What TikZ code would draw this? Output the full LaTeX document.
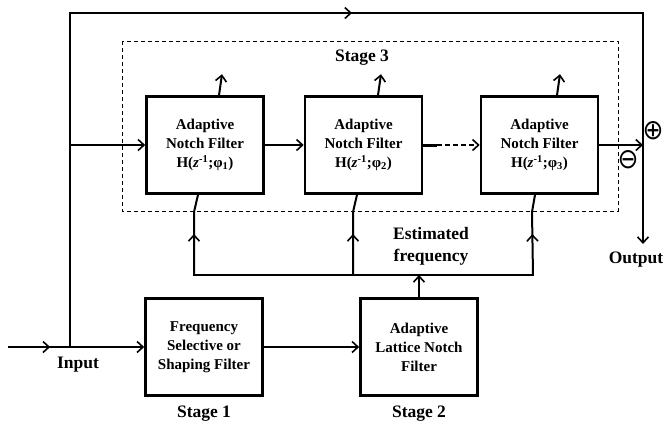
\documentclass[tikz,border=0pt]{standalone}
\usepackage{fontspec}
\setmainfont{Liberation Serif}
\newfontfamily\symfont{DejaVu Sans}
\usetikzlibrary{arrows.meta,decorations.markings}
\begin{document}
\begin{tikzpicture}[x=1pt,y=-1pt,
  >={Straight Barb[length=6pt,width=11pt,line width=1.6pt]},
  blk/.style={draw,line width=2.6pt,minimum width=117pt,minimum height=97pt,align=center,inner sep=0pt,font=\fontsize{15}{19}\selectfont\bfseries},
  lbl/.style={align=center,font=\fontsize{17.5}{22}\selectfont\bfseries,inner sep=0pt},
  conn/.style={line width=2pt},
  midarrow/.style={postaction={decorate},decoration={markings,mark=at position #1 with {\arrow{>}}}},
  sym/.style={font=\symfont\fontsize{25}{25}\selectfont,inner sep=0pt,yscale=1.12}
]
\useasboundingbox (0,0) rectangle (664,424);

% dashed stage-3 frame
\draw[line width=1pt,dash pattern=on 4pt off 3pt] (122,41) rectangle (618,211);
\node[lbl] (st3) at (362,58) {Stage 3};

% blocks
\node[blk] (f1) at (205,145) {Adaptive\\Notch Filter\\H(\textit{z}\textsuperscript{-1};φ\textsubscript{1})};
\node[blk] (f2) at (363.5,145) {Adaptive\\Notch Filter\\H(\textit{z}\textsuperscript{-1};φ\textsubscript{2})};
\node[blk] (f3) at (539.5,145) {Adaptive\\Notch Filter\\H(\textit{z}\textsuperscript{-1};φ\textsubscript{3})};
\node[blk] (s1) at (204,347) {Frequency\\Selective or\\Shaping Filter};
\node[blk] (s2) at (419,347) {Adaptive\\Lattice Notch\\Filter};

% labels
\node[lbl] (lin) at (78,365) {Input};
\node[lbl] (ls1) at (204,414) {Stage 1};
\node[lbl] (ls2) at (419,414) {Stage 2};
\node[lbl] (lest) at (431,246) {Estimated\\frequency};
\node[lbl] (lout) at (636,260) {Output};
\node[sym] (plus) at (653,131) {⊕};
\node[sym] (minus) at (628,160) {⊖};

% coordinates
\coordinate (in0) at (8,347);
\coordinate (j) at (70,347);
\coordinate (j2) at (70,145);
\coordinate (tl) at (70,13);
\coordinate (tr) at (643,13);
\coordinate (out) at (643,244);
\coordinate (e1) at (194,275);
\coordinate (e2) at (353,275);
\coordinate (e3) at (533,275);

% input path
\draw[conn,midarrow=0.68] (in0) -- (j);
\draw[conn,->] (j) -- (s1.west);
\draw[conn,->] (s1.east) -- (s2.west);
\draw[conn,midarrow=616pt,->,line join=miter] (j) -- (tl) -- (tr) -- (out);
\draw[conn,->] (j2) -- (f1.west);

% stage 3 chain
\draw[conn,->] (f1.east) -- (f2.west);
\draw[line width=3pt] (f2.east) -- ++(14,0) coordinate (d0);
\draw[conn,dash pattern=on 5pt off 3pt,->] (d0) -- (f3.west);
\draw[conn,->] (f3.east) -- (f3.east -| out);

% outputs upward
\draw[conn,->] ([xshift=14pt]f1.north) -- ++(3,-21);
\draw[conn,->] ([xshift=14.5pt]f2.north) -- ++(3,-21);
\draw[conn,->] ([xshift=17.5pt]f3.north) -- ++(3,-21);

% estimated frequency distribution
\draw[conn,->] (s2.north) -- (s2.north |- e1);
\draw[conn,line cap=rect] (e1) -- (e3);
\draw[conn,midarrow=41pt] (e1) -- (194,212) -- ([xshift=-7pt]f1.south);
\draw[conn,midarrow=41pt] (e2) -- (353,212) -- ([xshift=-6.5pt]f2.south);
\draw[conn,midarrow=41pt] (e3) -- (532,212) -- ([xshift=-4.5pt]f3.south);
\end{tikzpicture}
\end{document}
